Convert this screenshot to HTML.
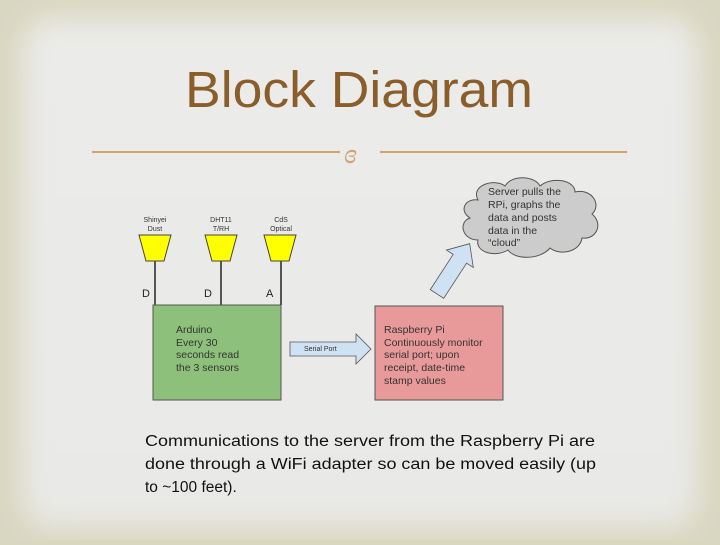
<!DOCTYPE html>
<html><head><meta charset="utf-8"><style>
html,body{margin:0;padding:0}
body{width:720px;height:540px;overflow:hidden;background:#d9d7c0}
</style></head><body>
<svg width="720" height="540" viewBox="0 0 720 540" xmlns="http://www.w3.org/2000/svg" font-family="Liberation Sans, Arial, sans-serif">
<defs>
<filter id="blur" x="-10%" y="-10%" width="120%" height="120%"><feGaussianBlur stdDeviation="14"/></filter>
<linearGradient id="inner" x1="0" y1="0" x2="0" y2="1">
<stop offset="0" stop-color="#ebebe9"/><stop offset="1" stop-color="#e9e9e7"/>
</linearGradient>
</defs>
<rect width="720" height="540" fill="#d9d7c0"/>
<rect x="22" y="18" width="676" height="510" rx="30" fill="url(#inner)" filter="url(#blur)"/>
<text x="185" y="107" font-size="51" fill="#8a5e2a" textLength="348" lengthAdjust="spacingAndGlyphs">Block Diagram</text>
<line x1="92" y1="152" x2="340" y2="152" stroke="#d0a66e" stroke-width="2"/>
<line x1="380" y1="152" x2="627" y2="152" stroke="#d0a66e" stroke-width="2"/>
<text x="344" y="163" font-size="28" font-style="italic" fill="#d0a66e" font-family="Liberation Serif, serif">ɞ</text>

<g font-size="7" fill="#333" text-anchor="middle">
<text x="155" y="222">Shinyei</text><text x="155" y="231">Dust</text>
<text x="221" y="222">DHT11</text><text x="221" y="231">T/RH</text>
<text x="281" y="222">CdS</text><text x="281" y="231">Optical</text>
</g>
<g fill="#ffff00" stroke="#444" stroke-width="1">
<polygon points="139,235 171,235 164,261 146,261"/>
<polygon points="205,235 237,235 230,261 212,261"/>
<polygon points="264,235 296,235 289,261 271,261"/>
</g>
<g stroke="#555" stroke-width="2">
<line x1="155" y1="261" x2="155" y2="305"/>
<line x1="221" y1="261" x2="221" y2="305"/>
<line x1="281" y1="261" x2="281" y2="305"/>
</g>
<g font-size="11" fill="#222">
<text x="142" y="297">D</text><text x="204" y="297">D</text><text x="266" y="297">A</text>
</g>
<rect x="153" y="305" width="128" height="95" fill="#8dc07a" stroke="#555" stroke-width="1"/>
<g font-size="10.5" fill="#333">
<text x="176" y="333">Arduino</text><text x="176" y="346">Every 30</text><text x="176" y="358">seconds read</text><text x="176" y="371">the 3 sensors</text>
</g>
<polygon points="290,342 356,342 356,334 371,349 356,364 356,356 290,356" fill="#cfe2f3" stroke="#555" stroke-width="0.8"/>
<text x="304" y="351" font-size="7" fill="#333">Serial Port</text>
<rect x="375" y="306" width="128" height="94" fill="#e89a9a" stroke="#555" stroke-width="1"/>
<g font-size="10.5" fill="#333">
<text x="384" y="333">Raspberry Pi</text><text x="384" y="346">Continuously monitor</text><text x="384" y="358">serial port; upon</text><text x="384" y="371">receipt, date-time</text><text x="384" y="384">stamp values</text>
</g>
<path d="M478,200 C470,185 495,178 505,186 C512,174 535,176 540,186 C552,176 575,180 575,192 C592,188 602,205 592,214 C604,224 596,240 582,238 C580,252 560,256 550,248 C540,260 515,260 508,250 C495,258 475,252 478,240 C462,240 458,222 470,218 C458,210 466,198 478,200 Z" fill="#cccccc" stroke="#555" stroke-width="1"/>
<g font-size="10.5" fill="#333">
<text x="488" y="195">Server pulls the</text><text x="488" y="208">RPi, graphs the</text><text x="488" y="221">data and posts</text><text x="488" y="234">data in the</text><text x="488" y="246">“cloud”</text>
</g>
<g transform="translate(437,294) rotate(-57)">
<polygon points="0,-8 42,-8 42,-16 60,0 42,16 42,8 0,8" fill="#cfe2f3" stroke="#555" stroke-width="0.8"/>
</g>
<g font-size="15.5" fill="#111">
<text x="145" y="446" textLength="450" lengthAdjust="spacingAndGlyphs">Communications to the server from the Raspberry Pi are</text>
<text x="145" y="469" textLength="451" lengthAdjust="spacingAndGlyphs">done through a WiFi adapter so can be moved easily (up</text>
<text x="145" y="492">to ~100 feet).</text>
</g>
</svg>
</body></html>
